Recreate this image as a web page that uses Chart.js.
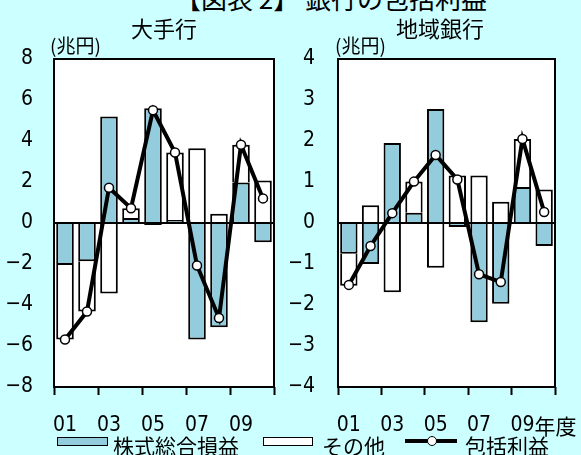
<!DOCTYPE html>
<html lang="ja">
<head>
<meta charset="utf-8">
<script src="https://cdn.jsdelivr.net/npm/chart.js@4/dist/chart.umd.min.js"></script>
<style>
  html, body { margin: 0; padding: 0; }
  body {
    width: 581px; height: 455px; overflow: hidden; position: relative;
    background: #ccffff;
    font-family: 'Noto Sans CJK JP', sans-serif; color: #000;
  }
  #main-title {
    position: absolute; left: 0; width: 662px; top: -15px;
    text-align: center; white-space: nowrap;
    font-size: 26px; line-height: 26px;
  }
  canvas.panel { position: absolute; top: 0; }
  #left-panel { left: 0; }
  #right-panel { left: 290px; }
  .lg-box {
    position: absolute; top: 437px; height: 9px; box-sizing: border-box;
    border: 1.5px solid #000;
  }
  .lg-text {
    position: absolute; top: 435px; font-size: 21px; line-height: 21px; white-space: nowrap;
  }
  .lg-line { position: absolute; left: 405px; top: 439px; width: 52px; height: 4px; background: #000; }
  .lg-dot {
    position: absolute; left: 427px; top: 436px; width: 10px; height: 10px; box-sizing: border-box;
    border: 1.5px solid #000; border-radius: 50%; background: #fff;
  }
</style>
</head>
<body>
<div id="main-title">【図表 2】 銀行の包括利益</div>
<canvas id="left-panel" class="panel" width="290" height="455"></canvas>
<canvas id="right-panel" class="panel" width="291" height="455"></canvas>

<div class="lg-box" style="left:57px;width:51px;background:#93cddd;"></div>
<div class="lg-text" style="left:113px;">株式総合損益</div>
<div class="lg-box" style="left:263px;width:50px;background:#fff;"></div>
<div class="lg-text" style="left:322px;">その他</div>
<div class="lg-line"></div>
<div class="lg-dot"></div>
<div class="lg-text" style="left:465px;">包括利益</div>

<script>
// Fiscal years 2001-2010
const years = ['01', '02', '03', '04', '05', '06', '07', '08', '09', '10'];

// 大手行 (trillion yen)
const majorStock = [-2.05, -1.87, 5.19, 0.25, 5.6, 0.15, -5.68, -5.08, 1.98, -0.94];
const majorOther = [-3.63, -2.45, -3.44, 0.47, -0.1, 3.29, 3.65, 0.45, 1.84, 2.07];
const majorTotal = [-5.68, -4.32, 1.72, 0.72, 5.5, 3.44, -2.07, -4.63, 3.82, 1.2];
const majorTicks = { min: -8, max: 8, step: 2 };

// 地域銀行 (trillion yen)
const regionalStock = [-0.75, -1.0, 1.95, 0.25, 2.78, -0.1, -2.42, -1.97, 0.88, -0.56];
const regionalOther = [-0.78, 0.43, -1.69, 0.76, -1.09, 1.16, 1.16, 0.52, 1.17, 0.82];
const regionalTotal = [-1.51, -0.56, 0.24, 1.01, 1.66, 1.06, -1.25, -1.44, 2.05, 0.27];
const regionalTicks = { min: -4, max: 4, step: 1 };

const STOCK_BLUE = '#93cddd';
const JP_FONT = "'Noto Sans CJK JP', sans-serif";
const NUM_FONT = "'Liberation Sans Narrow', 'DejaVu Sans Condensed', sans-serif";

// Frame, zero line, panel title, unit label and the trailing 年度 on the axis
const panelDecor = {
  id: 'panelDecor',
  beforeDraw(chart) {
    const { ctx, chartArea: a } = chart;
    ctx.save();
    ctx.fillStyle = '#fff';
    ctx.fillRect(a.left, a.top, a.right - a.left, a.bottom - a.top);
    ctx.restore();
  },
  beforeDatasetDraw(chart, args, opts) {
    if (args.meta.type !== 'line') return;
    const { ctx, chartArea: a } = chart;
    const y0 = chart.scales.y.getPixelForValue(0);
    ctx.save();
    ctx.strokeStyle = '#000';
    ctx.lineWidth = 2;
    ctx.beginPath();
    ctx.moveTo(a.left, y0);
    ctx.lineTo(a.right, y0);
    ctx.stroke();
    ctx.strokeRect(a.left, a.top, a.right - a.left, a.bottom - a.top);
    ctx.restore();
  },
  afterDraw(chart, args, opts) {
    const { ctx } = chart;
    ctx.save();
    ctx.fillStyle = '#000';
    ctx.textBaseline = 'middle';
    ctx.font = '22px ' + JP_FONT;
    ctx.textAlign = 'center';
    ctx.fillText(opts.title, opts.titleX, 29);
    ctx.font = '19px ' + JP_FONT;
    ctx.textAlign = 'left';
    ctx.fillText('(兆円)', opts.unitX, 46);
    if (opts.yearSuffix) {
      const xs = chart.scales.x;
      const item = xs.getLabelItems().find(it => it.label === '09');
      if (item) {
        ctx.font = '21px ' + NUM_FONT;
        const w = ctx.measureText('09').width;
        ctx.font = '21px ' + JP_FONT;
        ctx.textAlign = 'left';
        ctx.textBaseline = item.options.textBaseline;
        ctx.fillText('年度', item.options.translation[0] + w / 2,
                     item.options.translation[1] + item.textOffset);
      }
    }
    ctx.restore();
  }
};

function minusSign(v) {
  return String(v).replace('-', '\u2212');
}

function makePanel(canvasId, p) {
  return new Chart(document.getElementById(canvasId), {
    type: 'bar',
    data: {
      labels: years,
      datasets: [
        { label: '株式総合損益', data: p.stock, backgroundColor: STOCK_BLUE,
          borderColor: '#000', borderWidth: 2, stack: 'bars', order: 2 },
        { label: 'その他', data: p.other, backgroundColor: '#fff',
          borderColor: '#000', borderWidth: 2, stack: 'bars', order: 2 },
        { type: 'line', label: '包括利益', data: p.total, stack: 'line', order: 1,
          borderColor: '#000', borderWidth: 4, tension: 0,
          pointRadius: 4.5, pointBackgroundColor: '#fff',
          pointBorderColor: '#000', pointBorderWidth: 1.5 }
      ]
    },
    options: {
      responsive: false,
      animation: false,
      events: [],
      layout: { padding: { top: 59, right: p.padRight, left: 0, bottom: 0 } },
      datasets: { bar: { categoryPercentage: 1, barPercentage: 0.8 } },
      plugins: {
        legend: { display: false },
        tooltip: { enabled: false },
        panelDecor: { title: p.title, titleX: p.titleX, unitX: p.unitX, yearSuffix: p.yearSuffix }
      },
      scales: {
        x: {
          stacked: true,
          offset: true,
          border: { display: false },
          grid: {
            offset: true, drawOnChartArea: false, drawTicks: true,
            tickLength: 8, tickWidth: 2,
            tickColor: c => (c.index === undefined || c.index % 2 === 0) ? '#000' : 'rgba(0,0,0,0)'
          },
          ticks: {
            autoSkip: false, maxRotation: 0, padding: 18, color: '#000',
            font: { family: NUM_FONT, size: 21 },
            callback: (v, i) => (i % 2 === 0 ? years[i] : '')
          },
          afterFit: s => { s.height = 68; }
        },
        y: {
          stacked: true,
          min: p.ticks.min, max: p.ticks.max,
          border: { display: false },
          grid: { display: false, drawTicks: false },
          ticks: {
            stepSize: p.ticks.step, padding: p.tickPad, color: '#000',
            font: { family: NUM_FONT, size: 21 },
            callback: v => minusSign(v)
          },
          afterFit: s => { s.width = p.axisWidth; }
        }
      }
    },
    plugins: [panelDecor]
  });
}

makePanel('left-panel', {
  stock: majorStock, other: majorOther, total: majorTotal, ticks: majorTicks,
  title: '大手行', titleX: 164, unitX: 50,
  axisWidth: 54, padRight: 16, tickPad: 21, yearSuffix: false
});

makePanel('right-panel', {
  stock: regionalStock, other: regionalOther, total: regionalTotal, ticks: regionalTicks,
  title: '地域銀行', titleX: 150, unitX: 45,
  axisWidth: 48, padRight: 26, tickPad: 23, yearSuffix: true
});
</script>
</body>
</html>
